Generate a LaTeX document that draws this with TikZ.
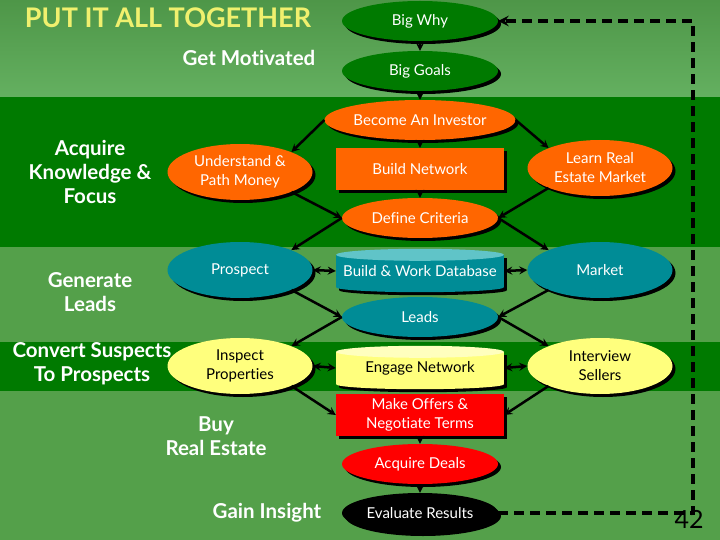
\documentclass[tikz,border=0pt]{standalone}
\usepackage{fontspec}
\setmainfont{Lato}[Ligatures=NoCommon]
\usepackage{tikz}
\usetikzlibrary{shapes.geometric}
\usetikzlibrary{shadows}
\definecolor{dkgreen}{RGB}{0,122,0}
\definecolor{ltgreen}{RGB}{84,160,74}
\definecolor{topgreenA}{RGB}{78,150,72}
\definecolor{topgreenB}{RGB}{100,176,96}
\definecolor{orng}{RGB}{255,102,0}
\definecolor{tl}{RGB}{0,140,150}
\definecolor{tltop}{RGB}{96,196,200}
\definecolor{ylw}{RGB}{255,255,125}
\definecolor{ylwtop}{RGB}{255,255,190}
\definecolor{ttl}{RGB}{240,240,110}
\tikzset{%
  onearrow/.style = {-stealth,line width=2.5pt},
  twoarrow/.style = {stealth-stealth,line width=2.5pt},
  loopline/.style = {-stealth,line width=3.5pt,dash pattern=on 10pt off 6pt},
  shd/.style = {drop shadow={shadow xshift=3pt,shadow yshift=-3pt,fill=black,opacity=1}},
  oval/.style = {ellipse,shd,text=white,minimum width=156pt,minimum height=40pt,
        inner sep=1pt,align=center,font=\fontsize{15}{19}\selectfont},
  side/.style = {oval,minimum width=145pt,minimum height=56pt},
  bx/.style = {rectangle,shd,text=white,minimum width=168pt,minimum height=42pt,
        inner sep=1pt,align=center,font=\fontsize{15}{19}\selectfont},
  drum/.style = {bx,minimum height=32pt},
  lbl/.style = {text=white,align=center,font=\bfseries\fontsize{20.5}{24}\selectfont}
}

\begin{document}
\begin{tikzpicture}[x=1pt,y=-1pt]
    \useasboundingbox (0,0) rectangle (720,540);
    \shade[top color=topgreenA,bottom color=topgreenB] (0,0) rectangle (720,97);
    \fill[dkgreen] (0,97) rectangle (720,247);
    \fill[ltgreen] (0,247) rectangle (720,342);
    \fill[dkgreen] (0,342) rectangle (720,391);
    \fill[ltgreen] (0,391) rectangle (720,540);

    \node[text=ttl,font=\bfseries\fontsize{27}{30}\selectfont] (title) at (168,18) {PUT IT ALL TOGETHER};
    \node[lbl] (motivated) at (249,58) {Get Motivated};
    \node[lbl] (acquire) at (90,172) {Acquire\\Knowledge \&\\Focus};
    \node[lbl] (generate) at (90,292) {Generate\\Leads};
    \node[lbl] (buy) at (216,436) {Buy\\Real Estate};
    \node[lbl] (insight) at (267,513) {Gain Insight};

    \node[oval,fill=dkgreen] (why) at (420,21) {Big Why};
    \node[oval,fill=dkgreen] (goals) at (420,71) {Big Goals};
    \node[oval,fill=orng] (investor) at (420,120) {Become An Investor};
    \node[bx,fill=orng] (network) at (420,169) {Build Network};
    \node[oval,fill=orng] (criteria) at (420,218) {Define Criteria};
    \node[side,fill=orng] (money) at (240,172) {Understand \&\\Path Money};
    \node[side,fill=orng] (learn) at (600,168) {Learn Real\\Estate Market};

    \node[side,fill=tl] (prospect) at (240,270) {Prospect};
    \node[drum,fill=tl] (database) at (420,271) {Build \& Work Database};
    \fill[black] ([shift={(3,3)}]database.south) ellipse (84 and 5);
    \fill[tl] (database.south) ellipse (84 and 5);
    \fill[tltop] (database.north) ellipse (84 and 6);
    \node[side,fill=tl] (market) at (600,270) {Market};
    \node[oval,fill=tl] (leads) at (420,317) {Leads};

    \node[side,fill=ylw,text=black] (inspect) at (240,366) {Inspect\\Properties};
    \node[drum,fill=ylw,text=black] (engage) at (420,368) {Engage Network};
    \fill[black] ([shift={(3,3)}]engage.south) ellipse (84 and 5);
    \fill[ylw] (engage.south) ellipse (84 and 5);
    \fill[ylwtop] (engage.north) ellipse (84 and 6);
    \node[side,fill=ylw,text=black] (sellers) at (600,366) {Interview\\Sellers};
    \node[lbl] (convert) at (92,364) {Convert Suspects\\To Prospects};

    \node[bx,fill=red] (offers) at (420,415) {Make Offers \&\\Negotiate Terms};
    \node[oval,fill=red] (deals) at (420,464) {Acquire Deals};
    \node[oval,fill=black] (results) at (420,513) {Evaluate Results};
    \node[font=\fontsize{25}{28}\selectfont] (page) at (689,519) {42};

    \draw[onearrow] (why) -- (goals);
    \draw[onearrow] (goals) -- (investor);
    \draw[onearrow] (investor.west) -- (money.north east);
    \draw[onearrow] (investor) -- (network);
    \draw[onearrow] (investor.east) -- (learn.north west);
    \draw[onearrow] (money.south east) -- (criteria.west);
    \draw[onearrow] (network) -- (criteria);
    \draw[onearrow] (learn.south west) -- (criteria.east);
    \draw[onearrow] (criteria.west) -- (prospect.north east);
    \draw[onearrow] (criteria.east) -- (market.north west);
    \draw[twoarrow] (prospect.east) -- (database.west);
    \draw[twoarrow] (database.east) -- (market.west);
    \draw[onearrow] (prospect.south east) -- (leads.west);
    \draw[onearrow] (market.south west) -- (leads.east);
    \draw[onearrow] (leads.west) -- (inspect.north east);
    \draw[onearrow] (leads.east) -- (sellers.north west);
    \draw[twoarrow] (inspect.east) -- (engage.west);
    \draw[twoarrow] (engage.east) -- (sellers.west);
    \draw[onearrow] (inspect.south east) -- (offers.west);
    \draw[onearrow] (sellers.south west) -- (offers.east);
    \draw[onearrow] (offers) -- (deals);
    \draw[onearrow] (deals) -- (results);

    \coordinate (corner) at (693,513);
    \draw[loopline] (results.east) -- (corner) |- (why.east);
\end{tikzpicture}
\end{document}
